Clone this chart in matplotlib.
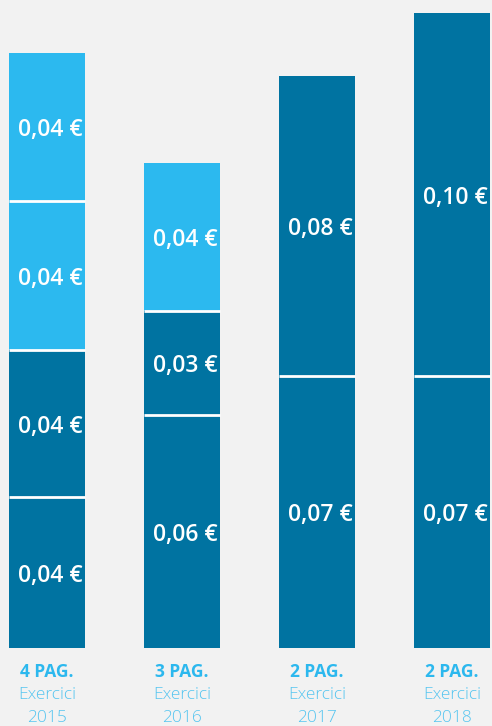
import matplotlib.pyplot as plt
import numpy as np

# data: segment values (bottom to top)
years = ['2015', '2016', '2017', '2018']
payments = ['4 PAG.', '3 PAG.', '2 PAG.', '2 PAG.']
seg_values = [
    [0.0408, 0.0397, 0.0403, 0.040],
    [0.063, 0.028, 0.040],
    [0.0735, 0.081],
    [0.0735, 0.098],
]
seg_labels = [
    ['0,04 €', '0,04 €', '0,04 €', '0,04 €'],
    ['0,06 €', '0,03 €', '0,04 €'],
    ['0,07 €', '0,08 €'],
    ['0,07 €', '0,10 €'],
]
seg_kind = [
    ['dark', 'dark', 'light', 'light'],
    ['dark', 'dark', 'light'],
    ['dark', 'dark'],
    ['dark', 'dark'],
]

colors = {'dark': '#0073a1', 'light': '#2cb9ef'}
bg = '#f2f2f2'
width = 0.563

plt.rcParams['font.family'] = ['Open Sans', 'DejaVu Sans']

fig = plt.figure(figsize=(4.92, 7.26), dpi=100, facecolor=bg)
ax = fig.add_axes([0, 78 / 726, 1, 648 / 726])
ax.set_facecolor(bg)

x = np.arange(len(years))
for i in range(len(years)):
    bottom = 0
    for val, lab, kind in zip(seg_values[i], seg_labels[i], seg_kind[i]):
        ax.bar(x[i], val, width=width, bottom=bottom, color=colors[kind], linewidth=0)
        ax.annotate(lab, (x[i], bottom + val / 2), xytext=(2.5, -2.2), textcoords='offset points',
                    ha='center', va='center', color='white', fontsize=16.5, fontweight='semibold')
        if bottom > 0:
            ax.hlines(bottom, x[i] - width / 2, x[i] + width / 2, colors='white', linewidth=2)
        bottom += val

tr = ax.get_xaxis_transform()
for i in range(len(years)):
    ax.text(x[i], -24 / 648, payments[i], transform=tr, ha='center', va='center',
            color='#2cb8ee', fontsize=12.5, fontweight='bold')
    ax.text(x[i], -47 / 648, 'Exercici', transform=tr, ha='center', va='center',
            color='#55c5f0', fontsize=12.5, fontweight='light')
    ax.text(x[i], -70 / 648, years[i], transform=tr, ha='center', va='center',
            color='#55c5f0', fontsize=12.5, fontweight='light')

ax.set_xlim(-47 / 135, 3 + 40 / 135)
ax.set_ylim(0, 648 / 3700)
ax.axis('off')

fig.savefig('out.png', dpi=100, facecolor=bg)
